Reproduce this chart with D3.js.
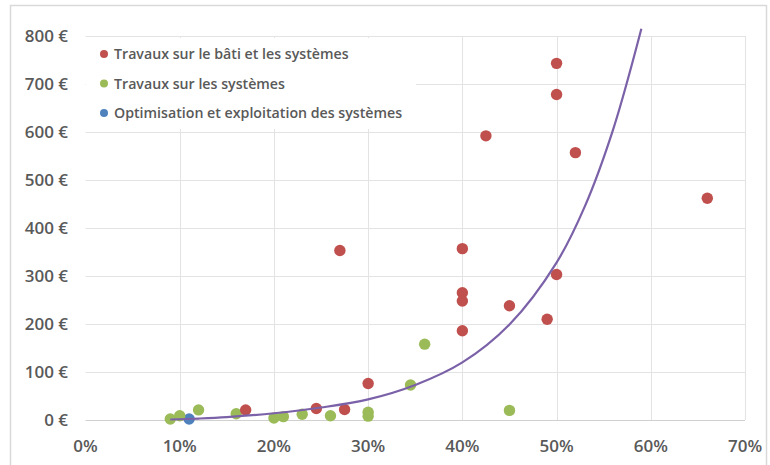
<!DOCTYPE html>
<html>
<head>
<meta charset="utf-8">
<script src="https://cdn.jsdelivr.net/npm/d3@7"></script>
<style>
  body { margin: 0; background: #fff; }
  text { font-family: "Open Sans", sans-serif; }
</style>
</head>
<body>
<div id="chart"></div>
<script>
// series: [gain %, cost €]
var bati = [
  [17, 21], [24.5, 24], [27.5, 22], [27, 353], [30, 76],
  [40, 357], [40, 265], [40, 248], [40, 186], [42.5, 592],
  [45, 238], [49, 210], [50, 743], [50, 678], [50, 303],
  [52, 557], [66, 462]
];
var systemes = [
  [9, 2], [10, 9], [12, 21], [16, 13], [20, 4], [21, 7],
  [23, 12], [26, 9], [30, 16], [30, 8], [34.5, 73], [36, 158], [45, 20]
];
var optimisation = [[11, 2]];

// trend curve
var trendX = [9, 12, 15, 20, 25, 30, 35, 40, 45, 50, 53, 56, 59];
var trendY = [1, 3, 6, 14, 26, 43, 73, 120, 199, 328, 445, 605, 815];

var xTicks = [0, 10, 20, 30, 40, 50, 60, 70];
var yTicks = [0, 100, 200, 300, 400, 500, 600, 700, 800];

var legendLabels = [
  "Travaux sur le bâti et les systèmes",
  "Travaux sur les systèmes",
  "Optimisation et exploitation des systèmes"
];
var colors = ["#C0504D", "#9BBB59", "#4F81BD"];

var W = 770, H = 465;
var x = d3.scaleLinear().domain([0, 70]).range([85.5, 745]);
var y = d3.scaleLinear().domain([0, 800]).range([420, 36]);

var svg = d3.select("#chart").append("svg")
  .attr("width", W).attr("height", H);

svg.append("rect")
  .attr("x", 10.5).attr("y", 5.5)
  .attr("width", W - 14).attr("height", H - 4)
  .style("fill", "#fff").style("stroke", "#D9D9D9").style("stroke-width", 1.5);

// gridlines
svg.append("g").selectAll("line").data(yTicks).enter().append("line")
  .attr("x1", x(0)).attr("x2", x(70))
  .attr("y1", function(d) { return Math.round(y(d)) + 0.5; })
  .attr("y2", function(d) { return Math.round(y(d)) + 0.5; })
  .style("stroke", function(d) { return d === 0 ? "#D0D0D0" : "#E3E3E3"; })
  .style("stroke-width", 1);

svg.append("g").selectAll("line").data(xTicks.slice(1)).enter().append("line")
  .attr("y1", y(0)).attr("y2", y(800))
  .attr("x1", function(d) { return Math.round(x(d)) + 0.5; })
  .attr("x2", function(d) { return Math.round(x(d)) + 0.5; })
  .style("stroke", "#E3E3E3").style("stroke-width", 1);

// axis labels
svg.append("g").selectAll("text").data(yTicks).enter().append("text")
  .attr("x", 68).attr("y", function(d) { return y(d); })
  .attr("dy", "0.36em")
  .attr("text-anchor", "end")
  .style("font-size", "17px").style("font-weight", 600).style("fill", "#595959")
  .text(function(d) { return d + " €"; });

svg.append("g").selectAll("text").data(xTicks).enter().append("text")
  .attr("x", function(d) { return x(d); }).attr("y", 452)
  .attr("text-anchor", "middle")
  .style("font-size", "17px").style("font-weight", 600).style("fill", "#595959")
  .text(function(d) { return d + "%"; });

// legend box (hides the grid behind it)
var legend = svg.append("g");
legend.append("rect")
  .attr("x", 86).attr("y", 38).attr("width", 330).attr("height", 91)
  .style("fill", "#fff");
legend.selectAll("circle").data(legendLabels).enter().append("circle")
  .attr("cx", 104).attr("cy", function(d, i) { return 54 + i * 29.5; })
  .attr("r", 4)
  .style("fill", function(d, i) { return colors[i]; });
legend.selectAll("text").data(legendLabels).enter().append("text")
  .attr("x", 114).attr("y", function(d, i) { return 54 + i * 29.5; })
  .attr("dy", "0.36em")
  .style("font-size", "14.2px").style("font-weight", 600).style("fill", "#595959")
  .text(function(d) { return d; });

// points
var series = [bati, systemes, optimisation];
series.slice().reverse().forEach(function(s, k) {
  var c = colors[series.length - 1 - k];
  svg.append("g").selectAll("circle").data(s).enter().append("circle")
    .attr("cx", function(d) { return x(d[0]); })
    .attr("cy", function(d) { return y(d[1]); })
    .attr("r", 5.7)
    .style("fill", c);
});

// trend line
var line = d3.line()
  .x(function(d) { return x(d[0]); })
  .y(function(d) { return y(d[1]); })
  .curve(d3.curveCatmullRom.alpha(0.5));
svg.append("path")
  .datum(d3.zip(trendX, trendY))
  .attr("d", line)
  .style("fill", "none")
  .style("stroke", "#7B61A8")
  .style("stroke-width", 2.2);
</script>
</body>
</html>
